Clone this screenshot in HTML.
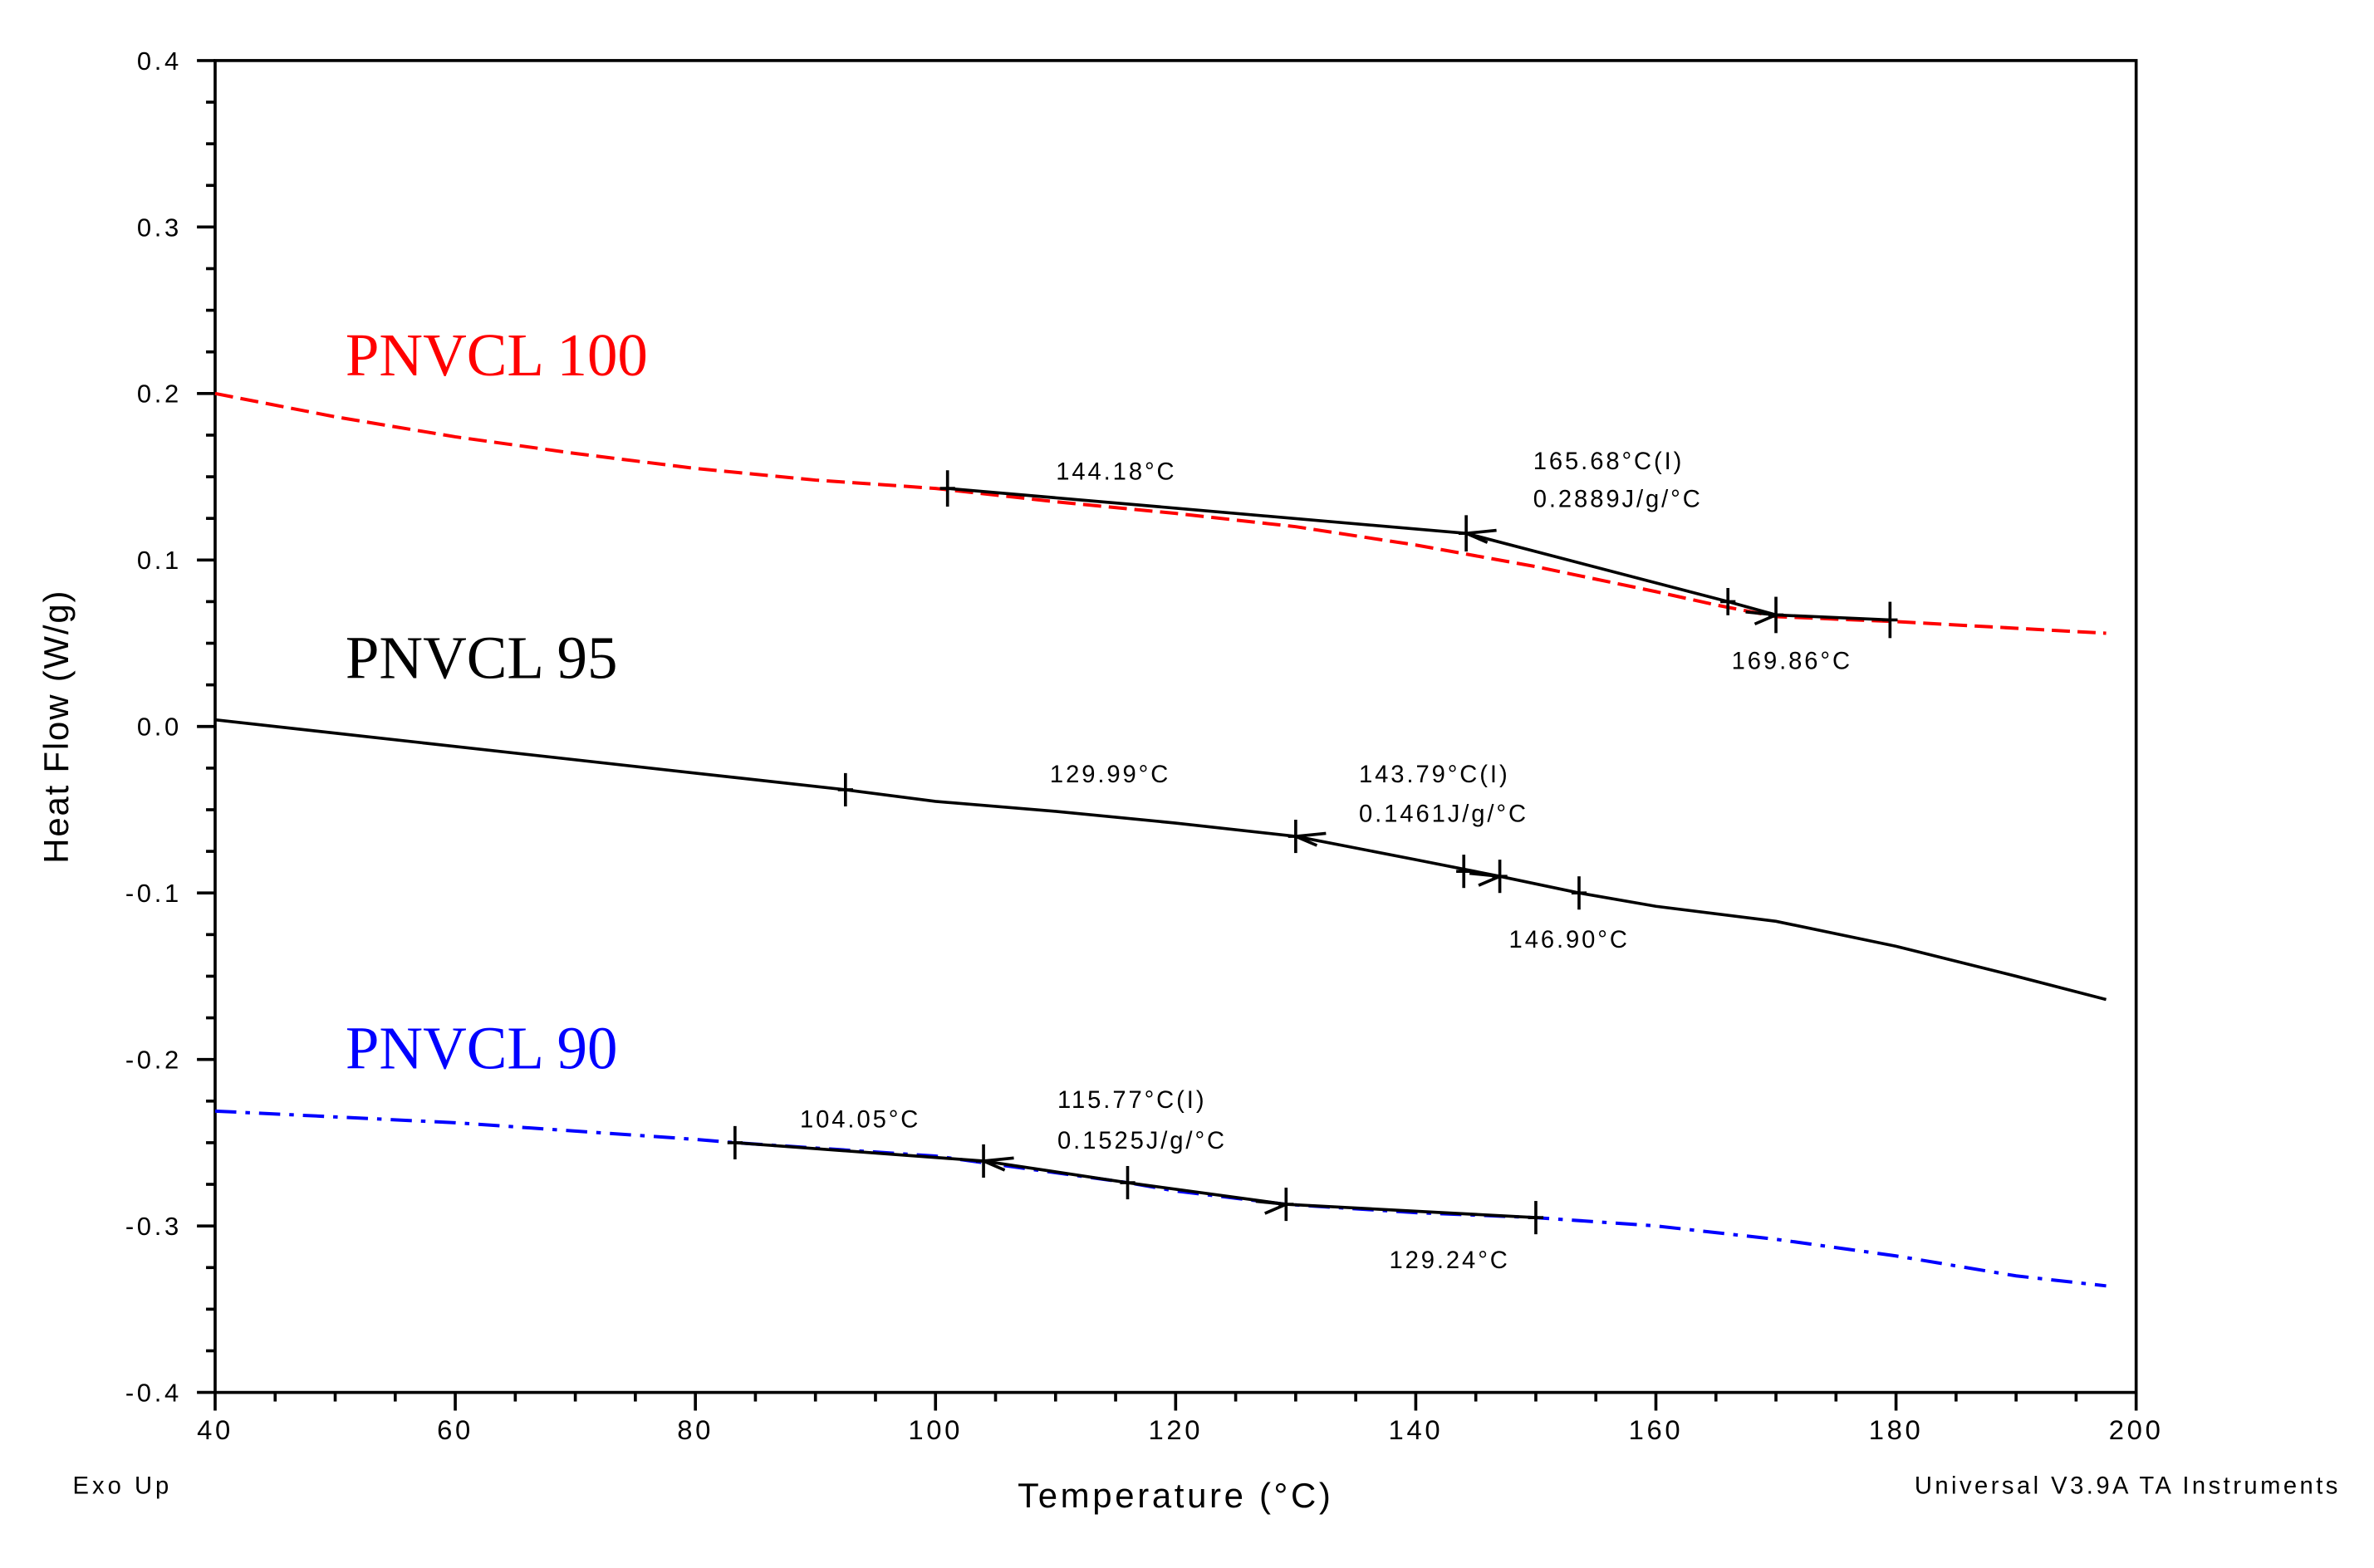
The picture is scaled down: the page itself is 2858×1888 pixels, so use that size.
<!DOCTYPE html>
<html><head><meta charset="utf-8"><style>
html,body{margin:0;padding:0;background:#fff;}
svg{display:block;}
</style></head><body>
<svg id="chart" width="2858" height="1888" viewBox="0 0 1567 1036" preserveAspectRatio="none" xmlns="http://www.w3.org/2000/svg">
<g id="axes"></g>
<g id="series"></g>
<g id="marks"></g>
<g font-family="'Liberation Sans', sans-serif" font-size="16" fill="#000" letter-spacing="1.6">
<text x="697" y="317">144.18°C</text>
<text x="1012" y="310">165.68°C(I)</text>
<text x="1012" y="335">0.2889J/g/°C</text>
<text x="1143" y="442">169.86°C</text>
<text x="693" y="517">129.99°C</text>
<text x="897" y="517">143.79°C(I)</text>
<text x="897" y="543">0.1461J/g/°C</text>
<text x="996" y="626">146.90°C</text>
<text x="528" y="745">104.05°C</text>
<text x="698" y="732">115.77°C(I)</text>
<text x="698" y="759">0.1525J/g/°C</text>
<text x="917" y="838">129.24°C</text>
<text x="48" y="987" font-size="16" letter-spacing="2.2">Exo Up</text>
<text x="1545" y="987" font-size="16" text-anchor="end" letter-spacing="1.9">Universal V3.9A TA Instruments</text>
<text x="776" y="996" font-size="23" text-anchor="middle" letter-spacing="2">Temperature (°C)</text>
<text x="0" y="0" font-size="23" text-anchor="middle" letter-spacing="1" transform="translate(45,480) rotate(-90)">Heat Flow (W/g)</text>
</g>
<g font-family="'Liberation Serif', serif" font-size="40">
<text x="228" y="248" fill="#ff0000">PNVCL 100</text>
<text x="228" y="448" fill="#000">PNVCL 95</text>
<text x="228" y="706" fill="#0000ff">PNVCL 90</text>
</g>
</svg>
<script>
const xTicks = [40,60,80,100,120,140,160,180,200];
const yTicks = [0.4,0.3,0.2,0.1,0.0,-0.1,-0.2,-0.3,-0.4];
const yTickLabels = ["0.4","0.3","0.2","0.1","0.0","-0.1","-0.2","-0.3","-0.4"];
const redT = [40,50,60,70,80,90,100,110,120,130,140,150,160,165,170,180,190,197.5];
const redV = [0.2,0.186,0.174,0.164,0.155,0.148,0.143,0.135,0.128,0.12,0.109,0.096,0.081,0.073,0.066,0.063,0.059,0.056];
const blackT = [40,60,80,92.5,100,110,120,130,140,147,153.6,160,170,180,190,197.5];
const blackV = [0.004,-0.012,-0.028,-0.038,-0.045,-0.051,-0.058,-0.066,-0.08,-0.09,-0.1,-0.108,-0.117,-0.132,-0.15,-0.164];
const blueT = [40,60,80,83.3,100,104,110,116,120,129.2,140,150,160,170,180,190,197.5];
const blueV = [-0.231,-0.238,-0.248,-0.25,-0.258,-0.262,-0.268,-0.274,-0.279,-0.287,-0.292,-0.295,-0.3,-0.308,-0.318,-0.33,-0.336];
const tan100T = [101,144.2,166,170,179.5];
const tan100V = [0.143,0.116,0.075,0.067,0.064];
const tan90T = [83.3,104,116,129.2,150];
const tan90V = [-0.25,-0.261,-0.274,-0.287,-0.295];
const mark95T = [92.5,130,144,147,153.6];
const mark95V = [-0.038,-0.066,-0.087,-0.09,-0.1];

const L=142,R=1410,T=40,B=920;
const sx=t=>L+(t-40)/160*(R-L);
const sy=v=>T+(0.4-v)/0.8*(B-T);
const NS="http://www.w3.org/2000/svg";
function mk(tag,parent,attrs){const e=document.createElementNS(NS,tag);for(const k in attrs)e.setAttribute(k,attrs[k]);parent.appendChild(e);return e;}
const ax=document.getElementById('axes');
let fr=mk('rect',ax,{x:L,y:T,width:R-L,height:B-T,fill:'none',stroke:'#000','stroke-width':2});


for(let v=-0.4;v<=0.4001;v+=0.025){const major=Math.abs(Math.round(v*10)-v*10)<1e-6;
 const t=mk('line',ax,{x1:L-(major?12:6),x2:L,y1:sy(v),y2:sy(v),stroke:'#000','stroke-width':2});
 
 }
for(let x=40;x<=200;x+=5){const major=x%20===0;
 const t=mk('line',ax,{x1:sx(x),x2:sx(x),y1:B,y2:B+(major?12:6),stroke:'#000','stroke-width':2});
 
 }
yTicks.forEach((v,i)=>{const t=mk('text',ax,{x:120,y:sy(v)+6,'text-anchor':'end','font-family':"'Liberation Sans',sans-serif",'font-size':17,'letter-spacing':2});t.textContent=yTickLabels[i];
 
 });
xTicks.forEach(x=>{const t=mk('text',ax,{x:sx(x),y:951,'text-anchor':'middle','font-family':"'Liberation Sans',sans-serif",'font-size':18,'letter-spacing':2});t.textContent=String(x);
 
 });
const sg=document.getElementById('series');
function pts(T,V){return T.map((t,i)=>sx(t).toFixed(1)+','+sy(V[i]).toFixed(1)).join(' ');}
let p=mk('polyline',sg,{points:pts(redT,redV),fill:'none',stroke:'#ff0000','stroke-width':2.2,'stroke-dasharray':'12,5'});


p=mk('polyline',sg,{points:pts(blackT,blackV),fill:'none',stroke:'#000','stroke-width':2});


p=mk('polyline',sg,{points:pts(blueT,blueV),fill:'none',stroke:'#0000ff','stroke-width':2.2,'stroke-dasharray':'14,6,3,6'});


p=mk('polyline',sg,{points:pts(tan100T,tan100V),fill:'none',stroke:'#000','stroke-width':2});


p=mk('polyline',sg,{points:pts(tan90T,tan90V),fill:'none',stroke:'#000','stroke-width':2});


const mg=document.getElementById('marks');
function cross(t,v,len){const x=sx(t),y=sy(v);
 const g=mk('g',mg,{});
 
 
 mk('line',g,{x1:x,x2:x,y1:y-len,y2:y+len,stroke:'#000','stroke-width':2});
 mk('line',g,{x1:x-5,x2:x+5,y1:y,y2:y,stroke:'#000','stroke-width':2});}
function arrow(t,v,dir){const x=sx(t),y=sy(v);
 const a=mk('polyline',mg,{points:`${x+dir*20},${y-2} ${x},${y} ${x+dir*14},${y+6}`,fill:'none',stroke:'#000','stroke-width':2});
 
 }
tan100T.forEach((t,i)=>cross(t,tan100V[i],i===2?9:12));
mark95T.forEach((t,i)=>cross(t,mark95V[i],11));
tan90T.forEach((t,i)=>cross(t,tan90V[i],11));
arrow(tan100T[1],tan100V[1],1);arrow(tan100T[3],tan100V[3],-1);
arrow(mark95T[1],mark95V[1],1);arrow(mark95T[3],mark95V[3],-1);
arrow(tan90T[1],tan90V[1],1);arrow(tan90T[3],tan90V[3],-1);
</script>
</body></html>
